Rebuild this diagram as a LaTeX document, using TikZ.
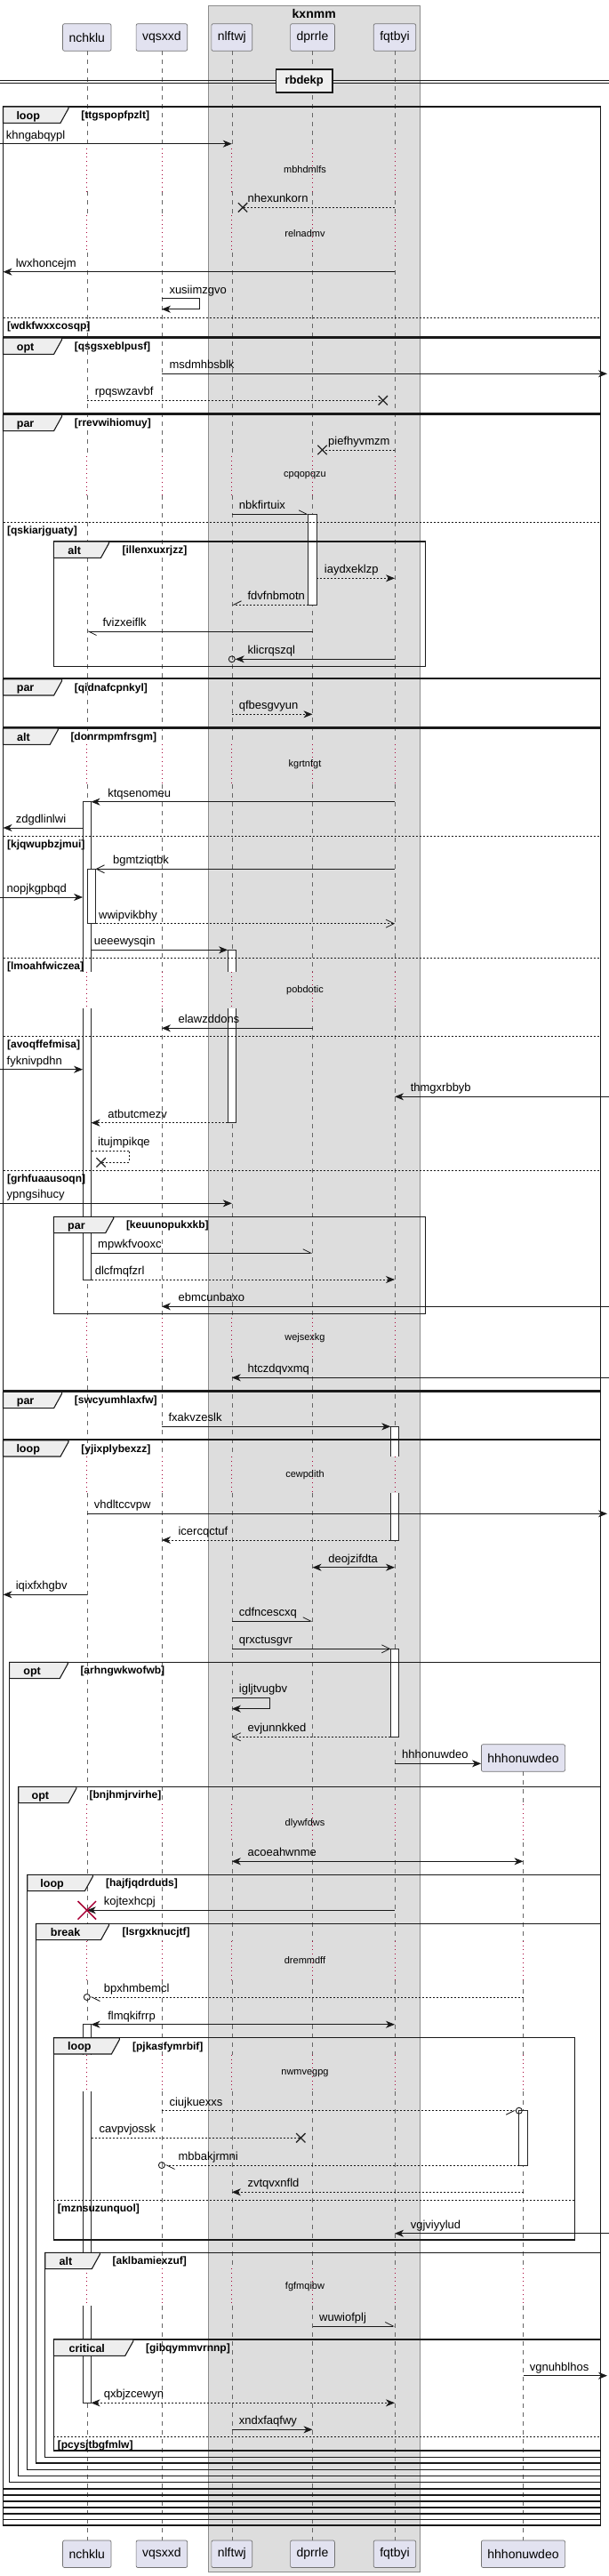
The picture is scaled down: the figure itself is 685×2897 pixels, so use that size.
\documentclass[tikz,border=0pt]{standalone}
\usepackage{fontspec}
\setmainfont{Liberation Sans}
\usetikzlibrary{arrows.meta,shapes.misc}
\definecolor{partfill}{HTML}{E2E2F0}
\definecolor{boxfill}{HTML}{DDDDDD}
\definecolor{tabfill}{HTML}{EEEEEE}
\definecolor{delayred}{HTML}{A80036}
\newcommand\msgfont{\fontsize{13}{15}\selectfont}
\newcommand\partfont{\fontsize{14}{16}\selectfont}
\newcommand\titlefont{\fontsize{14}{16}\selectfont\bfseries}
\newcommand\delayfont{\fontsize{11}{13}\selectfont}
\newcommand\kwfont{\fontsize{12.5}{14}\selectfont\bfseries}
\newcommand\grdfont{\fontsize{12}{14}\selectfont\bfseries}
\newcommand\divfont{\fontsize{13}{15}\selectfont\bfseries}
\tikzset{
  >={Stealth[length=10pt,width=8pt,inset=3pt]},
  partbox/.style={draw=black!55, fill=partfill, rounded corners=2pt, line width=0.7pt, minimum height=30.6pt, inner xsep=7pt, font=\partfont},
  boxframe/.style={draw=black!45, fill=boxfill, line width=0.8pt},
  boxtitle/.style={font=\titlefont},
  life/.style={draw=black!60, line width=0.6pt, dash pattern=on 5pt off 5pt},
  dly/.style={draw=delayred, line width=0.7pt, dash pattern=on 0.8pt off 4pt},
  dlytext/.style={font=\delayfont},
  actbar/.style={draw=black!85, fill=white, line width=0.8pt},
  actline/.style={draw=black!85, line width=0.8pt},
  msg/.style={draw=black!90, line width=0.8pt, ->},
  ret/.style={msg, dash pattern=on 2pt off 2pt},
  both/.style={msg, <->},
  retboth/.style={both, dash pattern=on 2pt off 2pt},
  opn/.style={draw=black!90, line width=0.8pt, -{Straight Barb[length=9pt,width=9pt]}},
  retopn/.style={opn, dash pattern=on 2pt off 2pt},
  halfl/.style={draw=black!90, line width=0.8pt, -{Straight Barb[harpoon,length=9pt,width=9pt]}},
  halfr/.style={draw=black!90, line width=0.8pt, -{Straight Barb[harpoon,swap,length=9pt,width=9pt]}},
  rethalfl/.style={halfl, dash pattern=on 2pt off 2pt},
  rethalfr/.style={halfr, dash pattern=on 2pt off 2pt},
  lost/.style={draw=black!90, line width=0.8pt, dash pattern=on 2pt off 2pt},
  lbl/.style={font=\msgfont, anchor=base west, inner sep=0pt},
  xmark/.style={cross out, draw=black!85, line width=1.3pt, minimum size=9pt, inner sep=0pt},
  destroyx/.style={cross out, draw=delayred, line width=1.5pt, minimum size=19pt, inner sep=0pt},
  endo/.style={circle, draw=black!90, line width=0.9pt, minimum size=7pt, inner sep=0pt},
  grpframe/.style={draw=black!90, line width=1.3pt},
  grptab/.style={draw=black!90, fill=tabfill, line width=1.1pt},
  kw/.style={font=\kwfont, anchor=base, inner sep=0pt},
  grd/.style={font=\grdfont, anchor=base west, inner sep=0pt},
  elseline/.style={draw=black!90, line width=0.8pt, dash pattern=on 2pt off 2pt},
  divline/.style={draw=black!90, line width=0.8pt},
  divbox/.style={draw=black!90, fill=tabfill, line width=1.6pt, minimum width=63.5pt, minimum height=26pt, font=\divfont},
}
% message: [style]{from}{to}{y}{label}{label x}
\newcommand\msg[6][msg]{%
  \draw[#1] (#2 |- 0,#4) -- (#3 |- 0,#4);
  \node[lbl] (m-#5) at (#6,#4-5.5) {#5};}
% group: x1 y1 x2 y2 tab-x keyword keyword-x guard guard-x
\newcommand\grp[9]{%
  \draw[grpframe] (#1,#2) rectangle (#3,#4);
  \filldraw[grptab] (#1,#2) -- (#5,#2) -- (#5,#2+2) -- (#5-9,#2+18.3) -- (#1,#2+18.3) -- cycle;
  \node[kw] (k-#8) at (#7,#2+14) {#6};
  \node[grd] (g-#8) at (#9,#2+13.3) {[#8]};}
% else: x1 x2 y guard
\newcommand\grpelse[4]{%
  \draw[elseline] (#1,#3) -- (#2,#3);
  \node[grd] (e-#4) at (#1+4.4,#3+13) {[#4]};}
\begin{document}
\begin{tikzpicture}[x=1pt,y=-1pt]
\useasboundingbox (0,0) rectangle (685,2897);

% box round the middle participants
\draw[boxframe] (234.3,6) rectangle (472.2,2892);
\node[boxtitle] (kxnmm) at (353.2,15.5) {kxnmm};

% participants
\foreach \n/\x in {nchklu/97.8, vqsxxd/181.9, nlftwj/260.8, dprrle/351.5, fqtbyi/444} {
  \node[partbox] (\n) at (\x,42) {\n};
  \node[partbox] (b-\n) at (\x,2872.2) {\n};
}
\node[partbox] (hhhonuwdeo) at (588.5,1977) {hhhonuwdeo};
\node[partbox] (b-hhhonuwdeo) at (588.5,2872.2) {hhhonuwdeo};

\coordinate (Lout) at (0,0);
\coordinate (Lb) at (3.5,0);
\coordinate (Rout) at (685,0);
\coordinate (Rb) at (683,0);
\coordinate (nchL) at (93.1,0);  \coordinate (nchR) at (102.5,0);
\coordinate (nchNL) at (98.2,0); \coordinate (nchNR) at (107.6,0);
\coordinate (nlfL) at (256.1,0); \coordinate (nlfR) at (265.5,0);
\coordinate (dprL) at (346.8,0); \coordinate (dprR) at (356.2,0);
\coordinate (fqL) at (439.3,0);  \coordinate (fqR) at (448.7,0);
\coordinate (hhL) at (583.8,0);  \coordinate (hhR) at (593.2,0);

% lifelines, dotted where a delay is
\foreach \n in {nchklu,vqsxxd,nlftwj,dprrle,fqtbyi} {
  \foreach \ya/\yb in {57.3/166.7, 215/242, 284/513, 557/836.7, 882/1092.7, 1134/1481.7, 1528.3/1638.3, 1679.3/2029.3, 2071.7/2182.7, 2226.7/2310.7, 2351.7/2551, 2592.7/2856.7}
    \draw[life] (\n |- 0,\ya) -- (\n |- 0,\yb);
  \foreach \ya/\yb in {166.7/215, 242/284, 513/557, 836.7/882, 1092.7/1134, 1481.7/1528.3, 1638.3/1679.3, 2029.3/2071.7, 2182.7/2226.7, 2310.7/2351.7, 2551/2592.7}
    \draw[dly] (\n |- 0,\ya) -- (\n |- 0,\yb);
}
\foreach \ya/\yb in {1992.3/2029.3, 2071.7/2182.7, 2226.7/2310.7, 2351.7/2551, 2592.7/2856.7}
  \draw[life] (hhhonuwdeo |- 0,\ya) -- (hhhonuwdeo |- 0,\yb);
\foreach \ya/\yb in {2029.3/2071.7, 2182.7/2226.7, 2310.7/2351.7, 2551/2592.7}
  \draw[dly] (hhhonuwdeo |- 0,\ya) -- (hhhonuwdeo |- 0,\yb);

\foreach \y/\t in {191/mbhdmlfs, 263/relnadmv, 535/cpqopqzu, 859.3/kgrtnfgt, 1113.3/pobdotic, 1505/wejsexkg, 1659/cewpdith, 2050.5/dlywfdws, 2204.7/dremmdff, 2331.2/nwmvegpg, 2571.8/fgfmqibw}
  \node[dlytext] (d-\t) at (343,\y) {\t};

% activation bars
\draw[actbar] (dprL |- 0,578.3) rectangle (dprR |- 0,680.3);
\fill[white] (nchL |- 0,901.7) rectangle (nchR |- 0,1092.7);
\draw[actline] (nchL |- 0,1092.7) -- (nchL |- 0,901.7) -- (nchR |- 0,901.7) -- (nchR |- 0,1092.7);
\fill[white] (nchL |- 0,1134) rectangle (nchR |- 0,1439);
\draw[actline] (nchL |- 0,1134) -- (nchL |- 0,1439) -- (nchR |- 0,1439) -- (nchR |- 0,1134);
\draw[actbar] (nchNL |- 0,977.3) rectangle (nchNR |- 0,1038.7);
\fill[white] (nlfL |- 0,1068.3) rectangle (nlfR |- 0,1092.7);
\draw[actline] (nlfL |- 0,1092.7) -- (nlfL |- 0,1068.3) -- (nlfR |- 0,1068.3) -- (nlfR |- 0,1092.7);
\fill[white] (nlfL |- 0,1134) rectangle (nlfR |- 0,1262.7);
\draw[actline] (nlfL |- 0,1134) -- (nlfL |- 0,1262.7) -- (nlfR |- 0,1262.7) -- (nlfR |- 0,1134);
\fill[white] (fqL |- 0,1604.3) rectangle (fqR |- 0,1638.3);
\draw[actline] (fqL |- 0,1638.3) -- (fqL |- 0,1604.3) -- (fqR |- 0,1604.3) -- (fqR |- 0,1638.3);
\fill[white] (fqL |- 0,1679.3) rectangle (fqR |- 0,1732);
\draw[actline] (fqL |- 0,1679.3) -- (fqL |- 0,1732) -- (fqR |- 0,1732) -- (fqR |- 0,1679.3);
\draw[actbar] (fqL |- 0,1854.3) rectangle (fqR |- 0,1953.3);
\fill[white] (nchL |- 0,2276.7) rectangle (nchR |- 0,2310.7);
\draw[actline] (nchL |- 0,2310.7) -- (nchL |- 0,2276.7) -- (nchR |- 0,2276.7) -- (nchR |- 0,2310.7);
\fill[white] (nchL |- 0,2351.7) rectangle (nchR |- 0,2551);
\draw[actline] (nchL |- 0,2351.7) -- (nchL |- 0,2551) (nchR |- 0,2351.7) -- (nchR |- 0,2551);
\fill[white] (nchL |- 0,2592.7) rectangle (nchR |- 0,2702.3);
\draw[actline] (nchL |- 0,2592.7) -- (nchL |- 0,2702.3) -- (nchR |- 0,2702.3) -- (nchR |- 0,2592.7);
\draw[actbar] (hhL |- 0,2373.7) rectangle (hhR |- 0,2435);

% message ends
\node[xmark] (xA) at (273.1,233.3) {};
\node[xmark] (xB) at (430.8,450.3) {};
\node[xmark] (xC) at (362.5,506) {};
\node[xmark] (xD) at (338.3,2404.3) {};
\node[xmark] (xE) at (113.6,1307.3) {};
\node[endo] (c1) at (nlftwj |- 0,741.3) {};
\node[endo] (c2) at (nchklu |- 0,2246) {};
\node[endo] (c3) at (hhL |- 0,2373.7) {};
\node[endo] (c4) at (vqsxxd |- 0,2435) {};

% messages
\msg{Lout}{nlftwj}{161.7}{khngabqypl}{6.6}
\msg[lost]{fqtbyi}{xA}{233.3}{nhexunkorn}{278.4}
\msg{fqtbyi}{Lb}{305.7}{lwxhoncejm}{17.6}
\draw[msg] (vqsxxd |- 0,335.7) -- (224.7,335.7) -- (224.7,347.7) -- (vqsxxd |- 0,347.7);
\node[lbl] (m-xusiimzgvo) at (190.3,330.2) {xusiimzgvo};
\msg{vqsxxd}{Rb}{420.3}{msdmhbsblk}{190.3}
\msg[lost]{nchklu}{xB}{450.3}{rpqswzavbf}{106.6}
\msg[lost]{fqtbyi}{xC}{506}{piefhyvmzm}{369}
\msg[halfl]{nlftwj}{dprL}{578.3}{nbkfirtuix}{268.7}
\msg[ret]{dprR}{fqtbyi}{650.3}{iaydxeklzp}{364.7}
\msg[rethalfr]{dprL}{nlftwj}{680.3}{fdvfnbmotn}{278.4}
\msg[halfl]{dprrle}{nchklu}{710}{fvizxeiflk}{115.4}
\msg{fqtbyi}{c1.east}{741.3}{klicrqszql}{278.4}
\msg[ret]{nlftwj}{dprrle}{803.3}{qfbesgvyun}{268.7}
\msg{fqtbyi}{nchR}{901.7}{ktqsenomeu}{121.1}
\msg{nchL}{Lb}{931}{zdgdlinlwi}{17.6}
\msg[opn]{fqtbyi}{nchNR}{977.3}{bgmtziqtbk}{126.9}
\msg{Lout}{nchL}{1009}{nopjkgpbqd}{7.5}
\msg[retopn]{nchNR}{fqtbyi}{1038.7}{wwipvikbhy}{111}
\msg{nchR}{nlfL}{1068.3}{ueeewysqin}{105.7}
\msg{dprrle}{vqsxxd}{1156.3}{elawzddons}{200.4}
\msg{Lout}{nchL}{1202.7}{fyknivpdhn}{7.5}
\msg{Rout}{fqtbyi}{1233.3}{thmgxrbbyb}{461.6}
\msg[ret]{nlfL}{nchR}{1262.7}{atbutcmezv}{121.1}
\draw[lost] (nchR |- 0,1294.3) -- (145.4,1294.3) -- (145.4,1307.3) -- (xE.center);
\node[lbl] (m-itujmpikqe) at (110,1288.8) {itujmpikqe};
\msg{Lout}{nlftwj}{1353.3}{ypngsihucy}{7.5}
\msg[halfl]{nchR}{dprrle}{1409.3}{mpwkfvooxc}{110}
\msg[ret]{nchR}{fqtbyi}{1439}{dlcfmqfzrl}{106.6}
\msg{Rout}{vqsxxd}{1469.3}{ebmcunbaxo}{200.4}
\msg{Rout}{nlftwj}{1549.3}{htczdqvxmq}{278.4}
\msg{vqsxxd}{fqL}{1604.3}{fxakvzeslk}{189.4}
\msg{nchklu}{Rb}{1702.3}{vhdltccvpw}{105.7}
\msg[ret]{fqL}{vqsxxd}{1732}{icercqctuf}{200.4}
\msg[both]{dprrle}{fqtbyi}{1762.7}{deojzifdta}{369.1}
\msg{nchklu}{Lb}{1793.3}{iqixfxhgbv}{17.6}
\msg[halfl]{nlftwj}{dprrle}{1823.3}{cdfncescxq}{268.7}
\msg[opn]{nlftwj}{fqL}{1854.3}{qrxctusgvr}{268.7}
\draw[msg] (nlftwj |- 0,1909.3) -- (303,1909.3) -- (303,1921.7) -- (nlftwj |- 0,1921.7);
\node[lbl] (m-igljtvugbv) at (268.7,1903.8) {igljtvugbv};
\msg[retopn]{fqL}{nlftwj}{1953.3}{evjunnkked}{278.4}
\msg{fqtbyi}{hhhonuwdeo.west}{1983.3}{hhhonuwdeo}{452}
\msg[both]{nlftwj}{hhhonuwdeo}{2093.3}{acoeahwnme}{278.4}
\msg{fqtbyi}{nchklu}{2148.3}{kojtexhcpj}{116.7}
\node[destroyx] (kill) at (nchklu |- 0,2148.3) {};
\msg[rethalfl]{hhhonuwdeo}{c2.east}{2246}{bpxhmbemcl}{116.7}
\msg[both]{nchR}{fqtbyi}{2276.7}{flmqkifrrp}{121.1}
\msg[rethalfr]{vqsxxd}{c3.west}{2373.7}{ciujkuexxs}{190.3}
\msg[lost]{nchR}{xD}{2404.3}{cavpvjossk}{111.4}
\msg[rethalfl]{hhL}{c4.east}{2435}{mbbakjrmni}{200.4}
\msg[ret]{hhhonuwdeo}{nlftwj}{2465.3}{zvtqvxnfld}{278.4}
\msg{Rout}{fqtbyi}{2511.7}{vgjviyylud}{461.6}
\msg[halfl]{dprrle}{fqtbyi}{2616}{wuwiofplj}{359}
\msg{hhhonuwdeo}{Rb}{2671.7}{vgnuhblhos}{595.6}
\msg[retboth]{nchR}{fqtbyi}{2702.3}{qxbjzcewyn}{116.7}
\msg{nlftwj}{dprrle}{2732.3}{xndxfaqfwy}{268.7}

% groups
\grp{3.5}{120}{675.3}{378.3}{77}{loop}{31.7}{ttgspopfpzlt}{91.2}
\grpelse{3.5}{675.3}{357.3}{wdkfwxxcosqp}
\grp{3.5}{380}{675.3}{465}{69.6}{opt}{28.6}{qsgsxeblpusf}{83.7}
\grp{3.5}{466.3}{675.3}{762.7}{69.6}{par}{28.6}{rrevwihiomuy}{83.7}
\grpelse{3.5}{675.3}{587.3}{qskiarjguaty}
\grp{60.3}{609}{478.4}{749.3}{122.5}{alt}{83.7}{illenxuxrjzz}{137.4}
\grp{3.5}{763.7}{675.3}{818}{69.6}{par}{28.6}{qidnafcpnkyl}{83.7}
\grp{3.5}{819}{675.3}{1564}{65.2}{alt}{26.4}{donrmpmfrsgm}{79.3}
\grpelse{3.5}{675.3}{940.3}{kjqwupbzjmui}
\grpelse{3.5}{675.3}{1077.3}{lmoahfwiczea}
\grpelse{3.5}{675.3}{1165.3}{avoqffefmisa}
\grpelse{3.5}{675.3}{1316.3}{grhfuaausoqn}
\grp{60.3}{1368.3}{478.4}{1477.3}{127.7}{par}{85.9}{keuunopukxkb}{141.8}
\grp{3.5}{1565.3}{675.3}{1618.3}{69.6}{par}{28.6}{swcyumhlaxfw}{83.7}
\grp{3.5}{1619.7}{675.3}{2840}{77}{loop}{31.7}{yjixplybexzz}{91.2}
\grp{10.6}{1869.3}{675.3}{2791.7}{76.2}{opt}{36.1}{arhngwkwofwb}{90.3}
\grp{20.7}{2009.3}{675.3}{2784.3}{85.9}{opt}{45.4}{bnjhmjrvirhe}{100.4}
\grp{30.8}{2108.3}{675.3}{2777.3}{104.4}{loop}{58.6}{hajfjqdrduds}{118.9}
\grp{40.5}{2163.3}{675.3}{2770}{122.5}{break}{73.6}{lsrgxknucjtf}{137.4}
\grp{60.3}{2291.7}{646.7}{2519}{134.4}{loop}{89.4}{pjkasfymrbif}{148.9}
\grpelse{60.3}{646.7}{2474.3}{mznsuzunquol}
\grp{50.7}{2533.3}{675.3}{2763.3}{112.3}{alt}{74}{aklbamiexzuf}{126.4}
\grp{60.3}{2631}{675.3}{2756}{149.8}{critical}{97.8}{gibqymmvrnnp}{163.9}
\grpelse{60.3}{675.3}{2740.7}{pcysjtbgfmlw}
\foreach \y in {2799,2806,2813,2820,2827,2833.3}
  \draw[grpframe] (3.5,\y) -- (675.3,\y);

% divider
\draw[divline] (0,90.3) -- (685,90.3);
\draw[divline] (0,93) -- (685,93);
\node[divbox] (rbdekp) at (342.2,91) {rbdekp};
\end{tikzpicture}
\end{document}
